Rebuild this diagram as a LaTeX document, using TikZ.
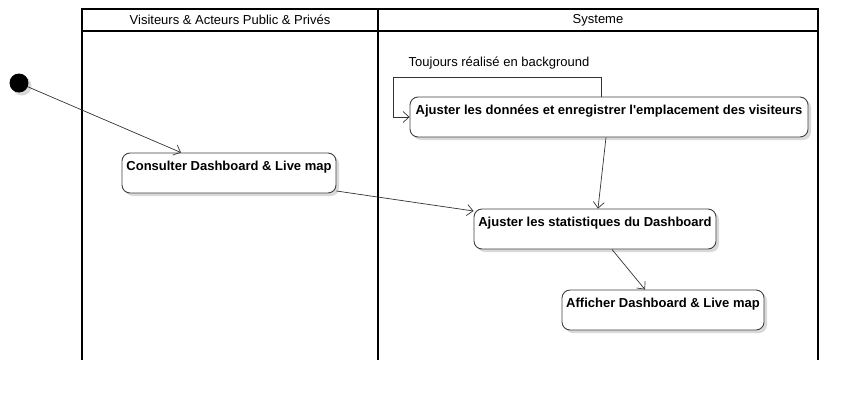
\documentclass[tikz,border=0pt]{standalone}
\usepackage{fontspec}
\setmainfont{Liberation Sans}
\usepackage{tikz}
\usetikzlibrary{arrows.meta,positioning,calc,shadows}

\begin{document}
\begin{tikzpicture}[x=1pt, y=-1pt,
  lane/.style = {draw=black, line width=1.6pt},
  act/.style = {draw=black!75, line width=0.9pt, rounded corners=8pt, fill=white,
    font=\fontsize{13}{15}\selectfont\bfseries, text height=14.5pt, text depth=19.5pt,
    inner xsep=3pt, inner ysep=3pt,
    drop shadow={shadow xshift=3pt, shadow yshift=-3pt, opacity=0.15, fill=black}},
  flow/.style = {draw=black!80, line width=0.7pt, -{Straight Barb[length=6pt,width=11pt]}}]
  \useasboundingbox (0,0) rectangle (858,402);

  % swimlanes
  \draw [lane] (82,360) |- (818,9) -- (818,360);
  \draw [lane] (82,31) -- (818,31);
  \draw [lane] (378,9) -- (378,360);
  \node (L1) at (230,20) {\fontsize{13}{15}\selectfont Visiteurs \& Acteurs Public \& Privés};
  \node (L2) at (598,20) {\fontsize{13}{15}\selectfont Systeme};

  \node (I) [circle, fill=black, minimum size=19pt, inner sep=0pt,
    drop shadow={shadow xshift=3pt, shadow yshift=-3pt, opacity=0.15, fill=black}] at (19,83) {};
  \node (C) [act, minimum width=214pt] at (229,173) {Consulter Dashboard \& Live map};
  \node (D) [act, minimum width=398pt] at (609,117) {Ajuster les données et enregistrer l\textquotesingle emplacement des visiteurs};
  \node (S) [act, minimum width=242pt] at (595,229) {Ajuster les statistiques du Dashboard};
  \node (A) [act, minimum width=202pt] at (663,310) {Afficher Dashboard \& Live map};
  \node (T) at (499,63) {\fontsize{13}{15}\selectfont Toujours réalisé en background};
  \coordinate (K) at (393,77);

  \path
  (I) edge [flow] ([xshift=-48pt]C.north)
  ([yshift=-18pt]C.east) edge [flow] ([yshift=18pt]S.west)
  ([xshift=-3pt]D.south) edge [flow] ([xshift=3pt]S.north)
  ([xshift=17pt]S.south) edge [flow] ([xshift=-18pt]A.north);
  \draw [flow] ([xshift=-8pt]D.north) |- (K) |- (D.west);
\end{tikzpicture}
\end{document}
